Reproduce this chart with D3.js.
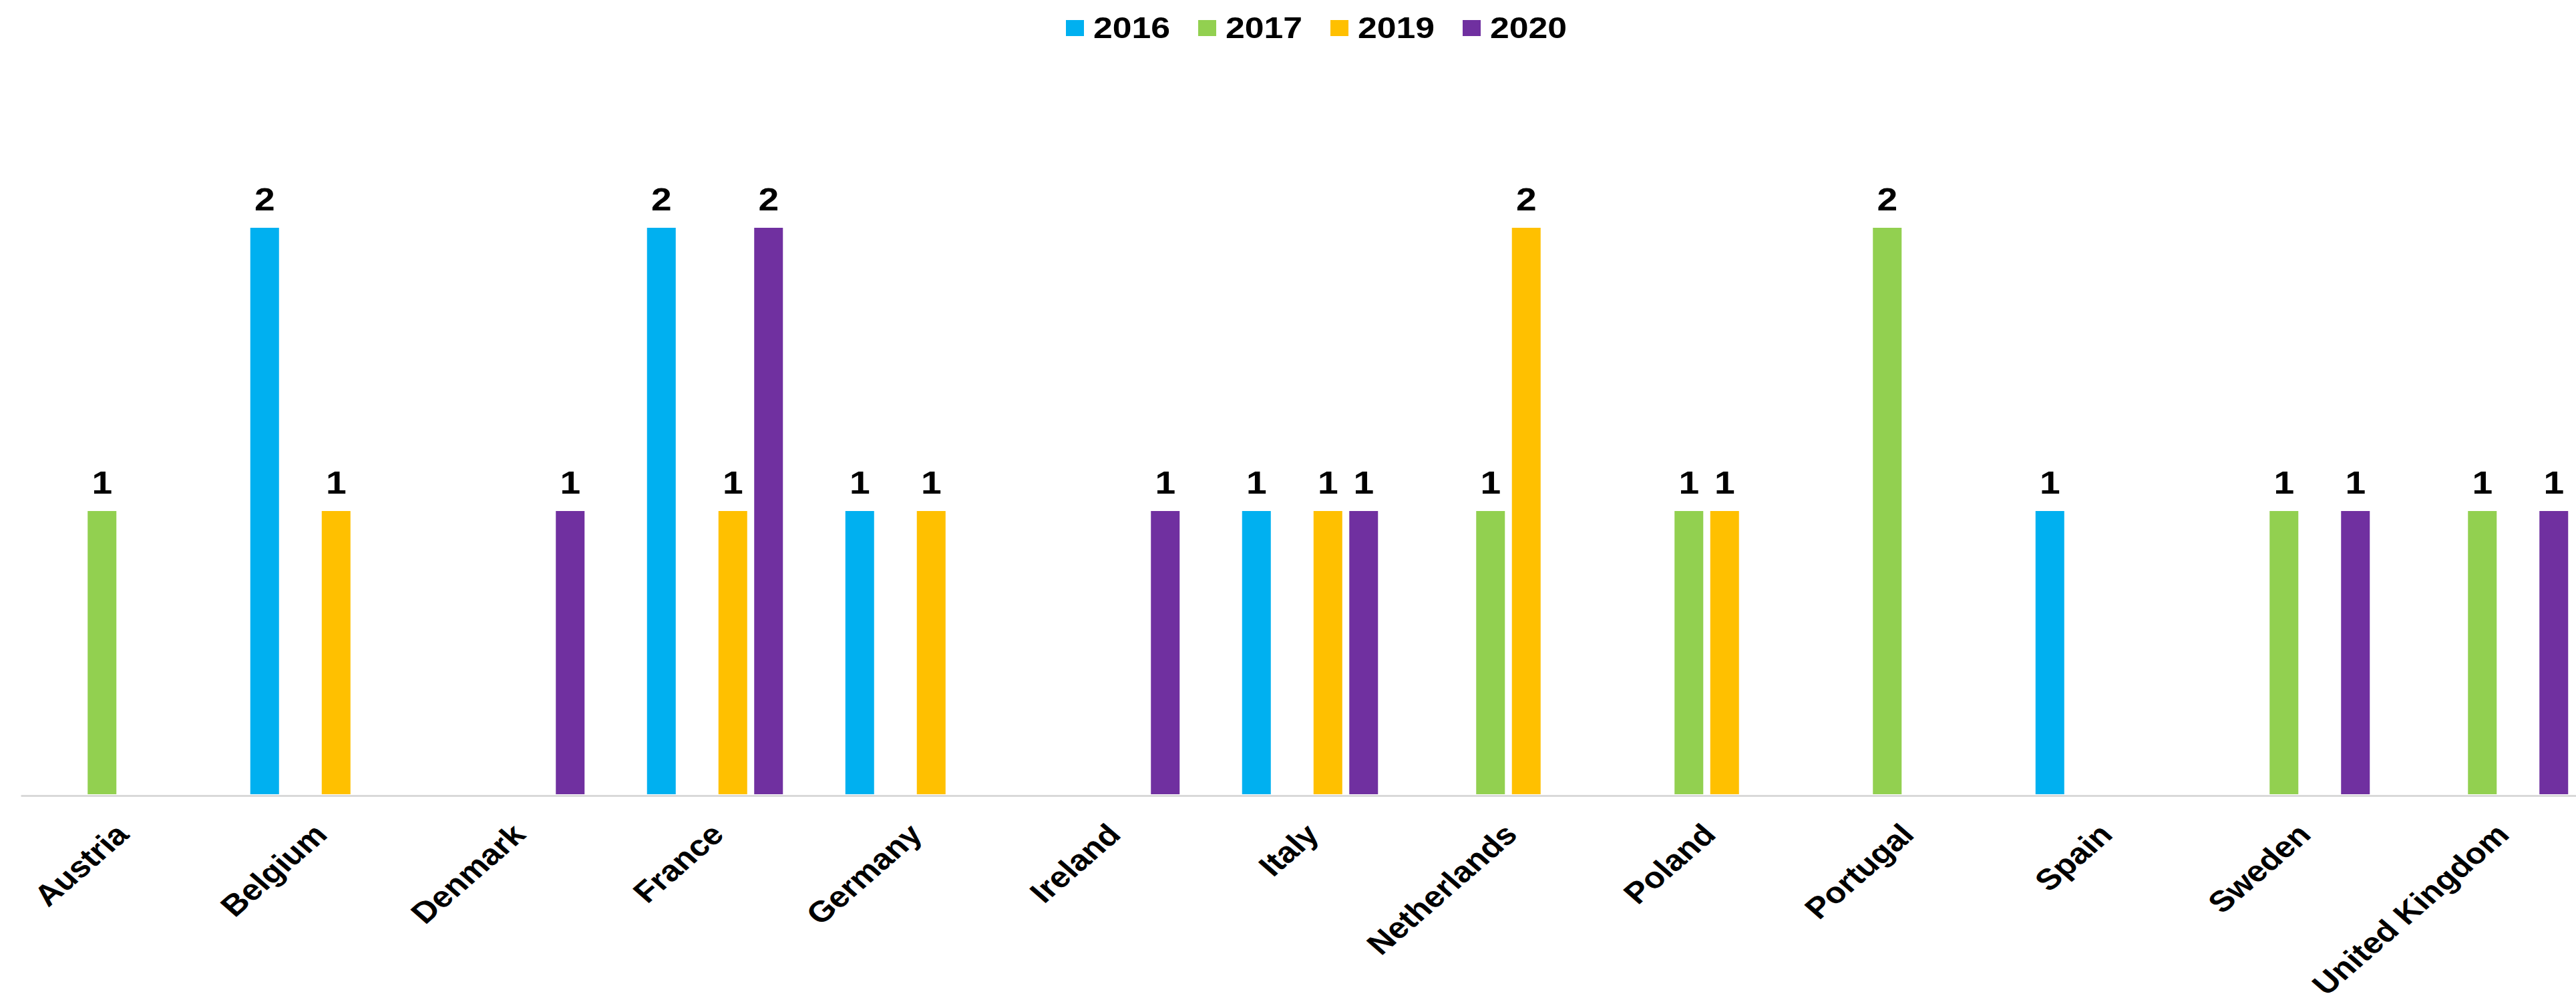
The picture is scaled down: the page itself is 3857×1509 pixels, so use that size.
<!DOCTYPE html>
<html>
<head>
<meta charset="utf-8">
<script src="https://cdn.jsdelivr.net/npm/d3@7"></script>
<style>
    html, body { margin: 0; padding: 0; background: #ffffff; overflow: hidden; }
    text { font-family: "Liberation Sans", Arial, sans-serif; font-weight: bold; fill: #000000; }
</style>
</head>
<body>
<script>
const WIDTH_SVG = 3857;
const HEIGHT_SVG = 1509;

// data
const countries = ["Austria", "Belgium", "Denmark", "France", "Germany", "Ireland", "Italy",
    "Netherlands", "Poland", "Portugal", "Spain", "Sweden", "United Kingdom"];
const years = ["2016", "2017", "2019", "2020"];
const colors = ["#00B0F0", "#92D050", "#FFC000", "#7030A0"];

const values2016 = [null, 2, null, 2, 1, null, 1, null, null, null, 1, null, null];
const values2017 = [1, null, null, null, null, null, null, 1, 1, 2, null, 1, 1];
const values2019 = [null, 1, null, 1, 1, null, 1, 2, 1, null, null, null, null];
const values2020 = [null, null, 1, 2, null, 1, 1, null, null, null, null, 1, 1];
const seriesValues = [values2016, values2017, values2019, values2020];

// layout (the plot runs past the right edge, as in the reference)
const PLOT_LEFT = 31;
const CATEGORY_WIDTH = 297;
const PLOT_RIGHT = PLOT_LEFT + CATEGORY_WIDTH * countries.length;
const PLOT_TOP = 129;
const BASELINE = 1189;
// the reference text is a little wider than the font, stretch it sideways
const TEXT_STRETCH = 1.15;

const svg = d3.select("body")
    .append("svg")
        .attr("width", WIDTH_SVG)
        .attr("height", HEIGHT_SVG)
        .attr("viewBox", `0 0 ${WIDTH_SVG} ${HEIGHT_SVG}`);

const x0 = d3.scaleBand()
    .domain(countries)
    .range([PLOT_LEFT, PLOT_RIGHT])
    .padding(0);

const x1 = d3.scaleBand()
    .domain(years)
    .range([0, x0.bandwidth()])
    .paddingInner(0.196)
    .paddingOuter(0.874);

const y = d3.scaleLinear()
    .domain([0, 2.5])
    .range([BASELINE, PLOT_TOP]);

const color = d3.scaleOrdinal().domain(years).range(colors);

// flatten to one record per bar
let bars = [];
years.forEach((yr, s) => {
    countries.forEach((c, i) => {
        if (seriesValues[s][i] != null) {
            bars.push({ country: c, year: yr, value: seriesValues[s][i] });
        }
    });
});

// category axis
const xAxis = svg.append("g")
    .attr("transform", `translate(0,${BASELINE + 2})`)
    .call(d3.axisBottom(x0).tickSize(0).tickPadding(0));

xAxis.select(".domain")
    .attr("stroke", "#d9d9d9")
    .attr("stroke-width", 3);

xAxis.selectAll(".tick text")
    .attr("text-anchor", "end")
    .attr("dy", 0)
    .attr("y", 0)
    .attr("transform", `translate(16,61) scale(${TEXT_STRETCH},1) rotate(-45)`)
    .style("font-size", "44px");

// bars
svg.append("g")
    .selectAll("rect")
    .data(bars)
    .join("rect")
        .attr("x", d => x0(d.country) + x1(d.year))
        .attr("y", d => y(d.value))
        .attr("width", x1.bandwidth())
        .attr("height", d => y(0) - y(d.value))
        .attr("fill", d => color(d.year));

// value labels
svg.append("g")
    .selectAll("text")
    .data(bars)
    .join("text")
        .attr("transform", d => `translate(${x0(d.country) + x1(d.year) + x1.bandwidth() / 2},${y(d.value) - 26}) scale(${TEXT_STRETCH},1)`)
        .attr("text-anchor", "middle")
        .style("font-size", "48px")
        .text(d => d.value);

// legend
const LEGEND_X = 1596;
const LEGEND_STEP = 198;
const legend = svg.append("g")
    .selectAll("g")
    .data(years)
    .join("g")
        .attr("transform", (d, i) => `translate(${LEGEND_X + LEGEND_STEP * i},0)`);

legend.append("rect")
    .attr("x", 0)
    .attr("y", 30)
    .attr("width", 27)
    .attr("height", 24)
    .attr("fill", d => color(d));

legend.append("text")
    .attr("transform", `translate(41,57) scale(${TEXT_STRETCH},1)`)
    .style("font-size", "45px")
    .text(d => d);
</script>
</body>
</html>
